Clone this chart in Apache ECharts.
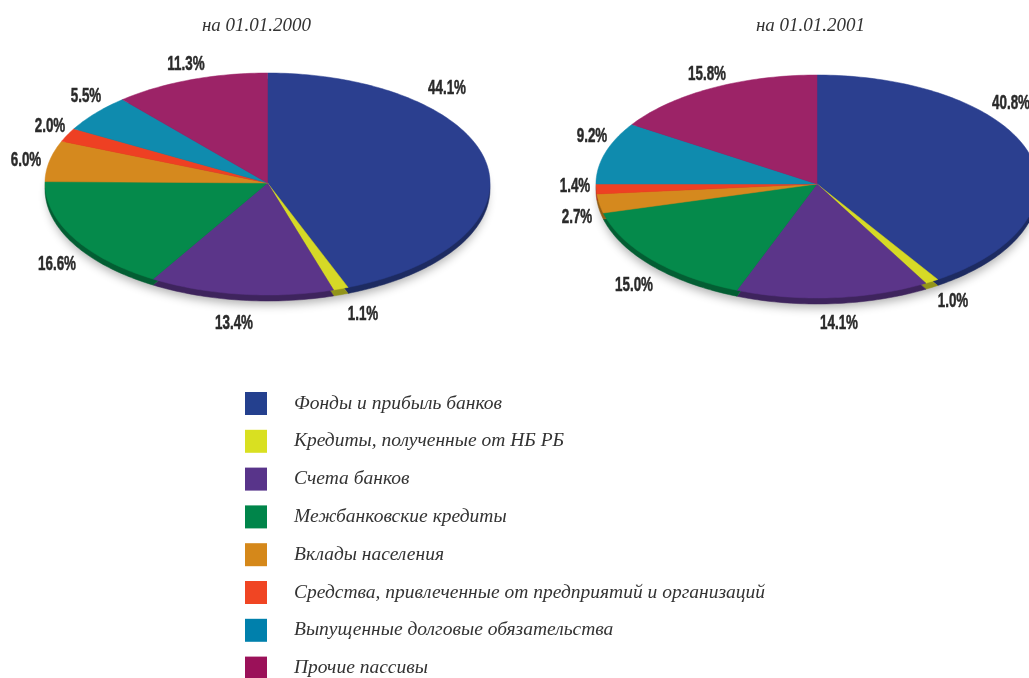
<!DOCTYPE html>
<html>
<head>
<meta charset="utf-8">
<style>
html,body{margin:0;padding:0;background:#fff;overflow:hidden;}
#main{width:1029px;height:678px;}
</style>
<script src="https://cdn.jsdelivr.net/npm/echarts@6/dist/echarts.min.js"></script>
</head>
<body>
<div id="main"></div>
<script>
var categories = ['Фонды и прибыль банков','Кредиты, полученные от НБ РБ','Счета банков','Межбанковские кредиты','Вклады населения','Средства, привлеченные от предприятий и организаций','Выпущенные долговые обязательства','Прочие пассивы'];
var values2000 = [44.1,1.1,13.4,16.6,6.0,2.0,5.5,11.3];
var values2001 = [40.8,1.0,14.1,15.0,2.7,1.4,9.2,15.8];
var years = ['на 01.01.2000','на 01.01.2001'];

// colours
var sliceColors = ['#2B3F8F','#D6D926','#5B3589','#058A4B','#D5891E','#EE4023','#0F8BAE','#9C2367'];
var legendColors = ['#24408E','#D9E021','#58348A','#00854A','#D5881A','#F04523','#0080AC','#9B1159'];

// layout of the two flattened pies, the lower half is a bit deeper than the upper one
var pies = [
	{cx:267.5, cy:183, rx:222.5, ryTop:110, ryBottom:112},
	{cx:817, cy:184, rx:221, ryTop:109, ryBottom:114}
];
var labelPos2000 = [[447,88],[363,314],[234,323],[57,264],[26,160],[50,126],[86,96],[186,64]];
var labelPos2001 = [[1011,103],[953,301],[839,323],[634,285],[577,217],[575,186],[592,136],[707,74]];
var sideDepth = 6;

var allValues = [values2000,values2001];
var allLabelPos = [labelPos2000,labelPos2001];

function sum(arr){
	var s = 0;
	for(var i=0;i<arr.length;i++){ s += arr[i]; }
	return s;
}

function darken(color, k){
	var c = echarts.color.parse(color);
	return 'rgb('+Math.round(c[0]*k)+','+Math.round(c[1]*k)+','+Math.round(c[2]*k)+')';
}

// slice outline from the share of the total, t is measured clockwise from the top
function slicePoints(pie, t0, t1, dy){
	var points = [[pie.cx, pie.cy+dy]];
	var steps = Math.max(2, Math.ceil((t1-t0)/0.02));
	for(var k=0;k<=steps;k++){
		var t = t0+(t1-t0)*k/steps;
		var c = Math.cos(t);
		points.push([pie.cx+pie.rx*Math.sin(t), pie.cy+dy-(c>0?pie.ryTop:pie.ryBottom)*c]);
	}
	return points;
}

function renderSlice(params, api){
	var cat = params.seriesIndex, year = params.dataIndex;
	var vals = allValues[year], pie = pies[year];
	var total = sum(vals), before = sum(vals.slice(0,cat));
	var t0 = before/total*Math.PI*2;
	var t1 = t0 + api.value(0)/total*Math.PI*2;
	var color = api.visual('color');
	var side = darken(color,0.68);
	var pos = allLabelPos[year][cat];
	return {
		type:'group',
		children:[
			{type:'polygon', z2:1, shape:{points:slicePoints(pie,t0,t1,sideDepth)},
				style:{fill:side, stroke:side, lineWidth:0.5}},
			{type:'polygon', z2:5, shape:{points:slicePoints(pie,t0,t1,0)},
				style:{fill:color, stroke:color, lineWidth:0.5}},
			{type:'text', x:pos[0], y:pos[1], scaleX:0.67, z2:10,
				style:{text:api.value(0).toFixed(1)+'%', align:'center', verticalAlign:'middle', fill:'#2a2a2a',
					stroke:'#2a2a2a', lineWidth:0.5,
					fontFamily:'"Liberation Sans"', fontWeight:'bold', fontSize:20}}
		]
	};
}

var series = [];
for(var i=0;i<categories.length;i++){
	series.push({
		type:'custom',
		name:categories[i],
		coordinateSystem:'none',
		silent:true,
		itemStyle:{color:sliceColors[i]},
		renderItem:renderSlice,
		data:[[values2000[i]],[values2001[i]]]
	});
}

var legendData = categories.map(function(name,i){
	return {name:name, icon:'rect', itemStyle:{color:legendColors[i]}};
});

function shadowOf(pie){
	return {type:'ellipse', z:0, shape:{cx:pie.cx, cy:pie.cy+sideDepth+(pie.ryBottom-pie.ryTop)/2, rx:pie.rx-3, ry:(pie.ryTop+pie.ryBottom)/2-2},
		style:{fill:'#fff', shadowBlur:10, shadowOffsetY:6, shadowColor:'rgba(0,0,0,0.3)'}};
}

var titleStyle = {fontFamily:'"Liberation Serif"', fontStyle:'italic', fontWeight:'normal', fontSize:19, color:'#333'};

var myChart = echarts.init(document.getElementById('main'));
var option = {
	animation:false,
	backgroundColor:'#fff',
	title:[
		{text:years[0], left:256.5, top:16, padding:0, textAlign:'center', textStyle:titleStyle},
		{text:years[1], left:810.5, top:16, padding:0, textAlign:'center', textStyle:titleStyle}
	],
	legend:{
		orient:'vertical',
		left:245,
		top:392,
		height:330,
		padding:0,
		itemWidth:22,
		itemHeight:23,
		itemGap:14.8,
		selectedMode:false,
		data:legendData,
		textStyle:{fontFamily:'"Liberation Serif"', fontStyle:'italic', fontSize:19.5, color:'#333', padding:[0,0,0,22]}
	},
	graphic:{elements:[shadowOf(pies[0]),shadowOf(pies[1])]},
	series:series
};
myChart.setOption(option);
</script>
</body>
</html>
